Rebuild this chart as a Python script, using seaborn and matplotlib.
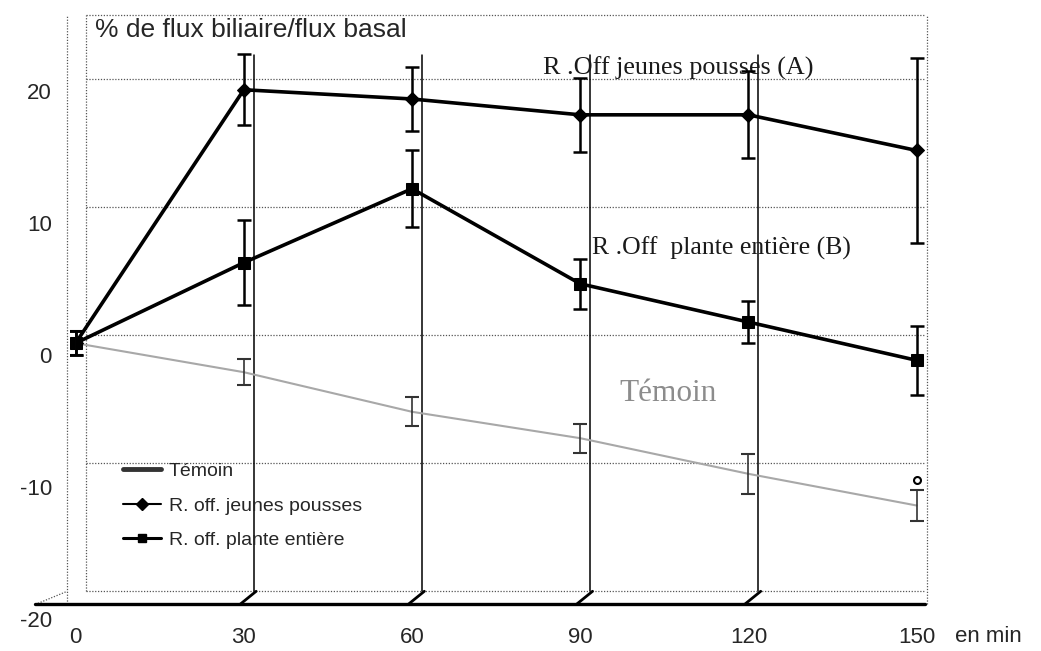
import numpy as np
import pandas as pd
import matplotlib
matplotlib.use("Agg")
import matplotlib.pyplot as plt
import matplotlib.transforms as mtransforms
from matplotlib import font_manager
from matplotlib.lines import Line2D
import seaborn as sns

# ---- data ----
times = [0, 30, 60, 90, 120, 150]
temoin = [0.9, -1.3, -4.3, -6.3, -9.0, -11.4]
temoin_err = [0.9, 1.0, 1.1, 1.1, 1.5, 1.2]
jeunes = [0.9, 20.1, 19.4, 18.2, 18.2, 15.5]
jeunes_err = [0.9, 2.7, 2.4, 2.8, 3.3, 7.0]
plante = [0.9, 7.0, 12.6, 5.4, 2.5, -0.4]
plante_err = [0.9, 3.2, 2.9, 1.9, 1.6, 2.6]
yticks = [-20, -10, 0, 10, 20]
xticks = [0, 30, 60, 90, 120, 150]
series_names = ["Témoin", "R. off. jeunes pousses", "R. off. plante entière"]

sns.set_style("white")
plt.rcParams["font.family"] = ["Liberation Sans", "DejaVu Sans"]

installed = {f.name for f in font_manager.fontManager.ttflist}
if "Liberation Sans Narrow" in installed:
    narrow = ["Liberation Sans Narrow", "DejaVu Sans"]
    tick_size, leg_size = 19, 16.5
else:
    narrow = ["Liberation Sans", "DejaVu Sans"]
    tick_size, leg_size = 16, 14

fig = plt.figure(figsize=(10.41, 6.51), dpi=100)
ax = fig.add_axes([70 / 1041, 32 / 651, 855 / 1041, 619 / 651])
ax.set_xlim(-1, 151.5)
ax.set_ylim(-20, 26.9)

def back(v):
    # pseudo-3D back wall: slightly compressed and raised
    return v * 0.97 + 1.5

wall = mtransforms.offset_copy(ax.transData, fig=fig, x=10, y=0, units="dots")
dot = dict(color="#555555", lw=0.9, ls=(0, (1, 1.3)), zorder=1)
for yv in yticks:
    ax.plot([0, 150], [back(yv), back(yv)], transform=wall, **dot)
ax.plot([0, 150], [25.8, 25.8], transform=wall, **dot)
ax.plot([0, 0], [back(-20), 25.8], transform=wall, **dot)
ax.plot([150, 150], [back(-20) - 1.0, 25.8], transform=wall, clip_on=False, **dot)
for xv in xticks[1:-1]:
    ax.plot([xv, xv], [back(-20), 22.7], transform=wall, color="black", lw=1.1, zorder=1)
    ax.plot([xv - 0.7, xv + 2.2], [-18.9, back(-20)], color="black", lw=2.0, zorder=2)

# front floor edge (thick) and left front edge (dotted)
ax.plot([-7.2, 151.5], [-18.9, -18.9], color="black", lw=2.4, clip_on=False, zorder=2)
ax.plot([-1.5, -1.5], [-18.9, 25.8], clip_on=False, **dot)
ax.plot([-7.2, -1.5], [-18.9, back(-20)], clip_on=False, **dot)

# series lines
sns.lineplot(x=times, y=temoin, color="#a8a8a8", lw=1.5, ax=ax, zorder=3)
sns.lineplot(x=times, y=jeunes, color="black", lw=2.6, marker="D", markersize=7,
             markeredgecolor="black", ax=ax, zorder=3)
sns.lineplot(x=times, y=plante, color="black", lw=2.6, marker="s", markersize=8,
             markeredgecolor="black", ax=ax, zorder=3)

ax.errorbar(times, temoin, yerr=temoin_err, fmt="none", ecolor="#333333",
            elinewidth=1.2, capsize=5, capthick=1.5, zorder=4)
ax.errorbar(times, jeunes, yerr=jeunes_err, fmt="none", ecolor="black",
            elinewidth=1.8, capsize=5, capthick=1.8, zorder=4)
ax.errorbar(times, plante, yerr=plante_err, fmt="none", ecolor="black",
            elinewidth=1.8, capsize=5, capthick=1.8, zorder=4)

# small marker near the end of the Témoin series
ax.plot([150], [temoin[-1] + 1.9], marker="o", mfc="white", mec="black", ms=5,
        mew=1.5, zorder=5)

for s in ["top", "right", "left", "bottom"]:
    ax.spines[s].set_visible(False)

ax.set_xticks(xticks)
ax.set_xticklabels([str(x) for x in xticks], family=narrow, fontsize=tick_size)
ax.set_yticks(yticks)
ax.set_yticklabels([str(y) for y in yticks], family=narrow, fontsize=tick_size)
ax.tick_params(axis="both", length=0)
ax.tick_params(axis="x", pad=6)
ax.tick_params(axis="y", pad=13)
ax.set_xlabel("")
ax.set_ylabel("")

fig.text(955 / 1041, 1 - 637 / 651, "en min", family=narrow, fontsize=tick_size,
         ha="left", va="center")

ax.text(3.5, 24.6, "% de flux biliaire/flux basal", fontsize=19, ha="left",
        va="center")

serif = ["Liberation Serif", "DejaVu Serif"]
ax.text(83.4, 21.7, "R .Off jeunes pousses (A)", family=serif, fontsize=18.8,
        ha="left", va="center", color="#1a1a1a")
ax.text(92.1, 8.1, "R .Off  plante entière (B)", family=serif, fontsize=18.5,
        ha="left", va="center", color="#1a1a1a")
ax.text(97.0, -2.9, "Témoin", family=serif, fontsize=22.5, ha="left", va="center",
        color="#8c8c8c")

# legend
handles = [
    Line2D([], [], color="#333333", lw=3.5),
    Line2D([], [], color="black", lw=1.5, marker="D", ms=6),
    Line2D([], [], color="black", lw=2.2, marker="s", ms=6),
]
ax.legend(handles, series_names, loc="upper left", bbox_to_anchor=(0.0415, 0.281),
          frameon=False, handlelength=1.95, handletextpad=0.4, labelspacing=0.86,
          prop={"family": narrow, "size": leg_size})

fig.savefig("out.png", dpi=100, facecolor="white")
